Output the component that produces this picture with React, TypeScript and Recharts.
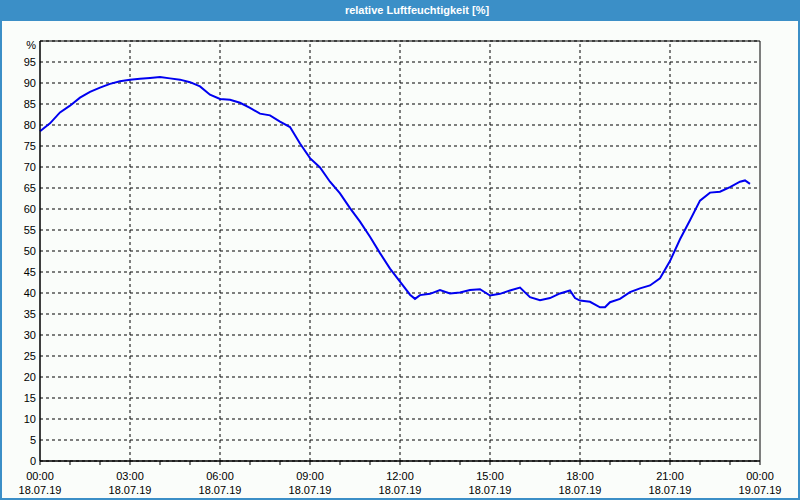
import React from 'react';
import {
  LineChart,
  Line,
  XAxis,
  YAxis,
  CartesianGrid,
  ReferenceLine,
  ReferenceArea,
} from 'recharts';

// minutes since 18.07.19 00:00
const minutes = [
  0, 20, 40, 60, 80, 100, 120, 140, 160, 180, 200, 220, 240, 260, 280, 300,
  320, 340, 360, 380, 400, 420, 440, 460, 480, 500, 520, 540, 560, 580, 600,
  620, 640, 660, 680, 700, 720, 740, 750, 760, 780, 800, 820, 840, 860, 880,
  900, 920, 940, 960, 980, 1000, 1020, 1040, 1060, 1070, 1080, 1100, 1120,
  1130, 1140, 1160, 1180, 1200, 1220, 1240, 1260, 1280, 1300, 1320, 1340,
  1360, 1380, 1400, 1410, 1420,
];

const humidity = [
  78.5, 80.4, 83.0, 84.6, 86.5, 87.9, 88.9, 89.8, 90.4, 90.8, 91.0, 91.2, 91.4,
  91.1, 90.8, 90.2, 89.2, 87.2, 86.2, 86.0, 85.3, 84.1, 82.7, 82.3, 80.8, 79.5,
  75.6, 72.1, 69.9, 66.5, 63.7, 60.2, 57.0, 53.4, 49.5, 45.8, 42.7, 39.6, 38.6,
  39.5, 39.8, 40.7, 39.9, 40.1, 40.7, 40.9, 39.4, 39.8, 40.6, 41.3, 39.0, 38.3,
  38.8, 39.9, 40.6, 38.8, 38.2, 37.9, 36.6, 36.6, 37.8, 38.6, 40.2, 41.1, 41.8,
  43.5, 47.6, 52.8, 57.3, 62.0, 63.9, 64.1, 65.2, 66.5, 66.8, 66.0,
];

const hourTicks = [
  0, 60, 120, 180, 240, 300, 360, 420, 480, 540, 600, 660, 720, 780, 840, 900,
  960, 1020, 1080, 1140, 1200, 1260, 1320, 1380, 1440,
];
const majorTicks = [0, 180, 360, 540, 720, 900, 1080, 1260, 1440];
const timeLabels = ['00:00', '03:00', '06:00', '09:00', '12:00', '15:00', '18:00', '21:00', '00:00'];
const dateLabels = ['18.07.19', '18.07.19', '18.07.19', '18.07.19', '18.07.19', '18.07.19', '18.07.19', '18.07.19', '19.07.19'];
const yTicks = [0, 5, 10, 15, 20, 25, 30, 35, 40, 45, 50, 55, 60, 65, 70, 75, 80, 85, 90, 95, 100];

const data = minutes.map((m, i) => ({ t: m, rh: humidity[i] }));

const FONT = '"Liberation Sans", Arial, sans-serif';
const FRAME = '#3b8fc7';

const TimeTick = (props: any) => {
  const { x, y, payload } = props;
  const idx = majorTicks.indexOf(payload.value);
  return (
    <g>
      <line x1={x} y1={y} x2={x} y2={y + 4} stroke="#000" />
      {idx >= 0 && (
        <text x={x} y={y + 19} textAnchor="middle" fontSize={11} fontFamily={FONT} fill="#000">
          {timeLabels[idx]}
        </text>
      )}
      {idx >= 0 && (
        <text x={x} y={y + 33} textAnchor="middle" fontSize={11} fontFamily={FONT} fill="#000">
          {dateLabels[idx]}
        </text>
      )}
    </g>
  );
};

const ValueTick = (props: any) => {
  const { x, y, payload } = props;
  const isTop = payload.value === 100;
  return (
    <text x={x} y={y + (isTop ? 8 : 4)} textAnchor="end" fontSize={11} fontFamily={FONT} fill="#000">
      {isTop ? '%' : payload.value}
    </text>
  );
};

const App: React.FC = () => {
  return (
    <div
      style={{
        position: 'absolute',
        left: 0,
        top: 0,
        width: 800,
        height: 500,
        background: '#fafdfa',
        overflow: 'hidden',
      }}
    >
      <div
        style={{
          position: 'absolute',
          left: 0,
          top: 0,
          width: 800,
          height: 21,
          background: FRAME,
          color: '#fff',
          fontFamily: FONT,
          fontSize: 11,
          fontWeight: 'bold',
          lineHeight: '21px',
          textAlign: 'center',
          paddingLeft: 34,
          boxSizing: 'border-box',
        }}
      >
        relative Luftfeuchtigkeit [%]
      </div>
      <div style={{ position: 'absolute', left: 0, top: 0, width: 2, height: 500, background: FRAME }} />
      <div style={{ position: 'absolute', right: 0, top: 0, width: 2, height: 500, background: FRAME }} />
      <div style={{ position: 'absolute', left: 0, bottom: 0, width: 800, height: 2, background: FRAME }} />
      <div style={{ position: 'absolute', left: 0, top: 0 }}>
        <LineChart
          width={800}
          height={500}
          data={data}
          margin={{ top: 41, right: 40, bottom: 0, left: 0 }}
        >
          <CartesianGrid vertical={false} stroke="#000" strokeDasharray="3 3" />
          <XAxis
            dataKey="t"
            type="number"
            domain={[0, 1440]}
            ticks={hourTicks}
            interval={0}
            height={39}
            tickSize={0}
            tickMargin={0}
            tickLine={false}
            axisLine={{ stroke: '#000' }}
            tick={<TimeTick />}
          />
          <YAxis
            type="number"
            domain={[0, 100]}
            ticks={yTicks}
            interval={0}
            width={40}
            tickSize={2}
            tickMargin={2}
            tickLine={false}
            axisLine={{ stroke: '#000' }}
            tick={<ValueTick />}
          />
          {majorTicks.slice(1, -1).map((m) => (
            <ReferenceLine key={m} x={m} stroke="#000" strokeDasharray="3 3" />
          ))}
          <ReferenceArea x1={0} x2={1440} y1={0} y2={100} fill="none" stroke="#000" strokeOpacity={1} />
          <Line
            type="linear"
            dataKey="rh"
            stroke="#0000f0"
            strokeWidth={2}
            dot={false}
            isAnimationActive={false}
          />
        </LineChart>
      </div>
    </div>
  );
};

export default App;
